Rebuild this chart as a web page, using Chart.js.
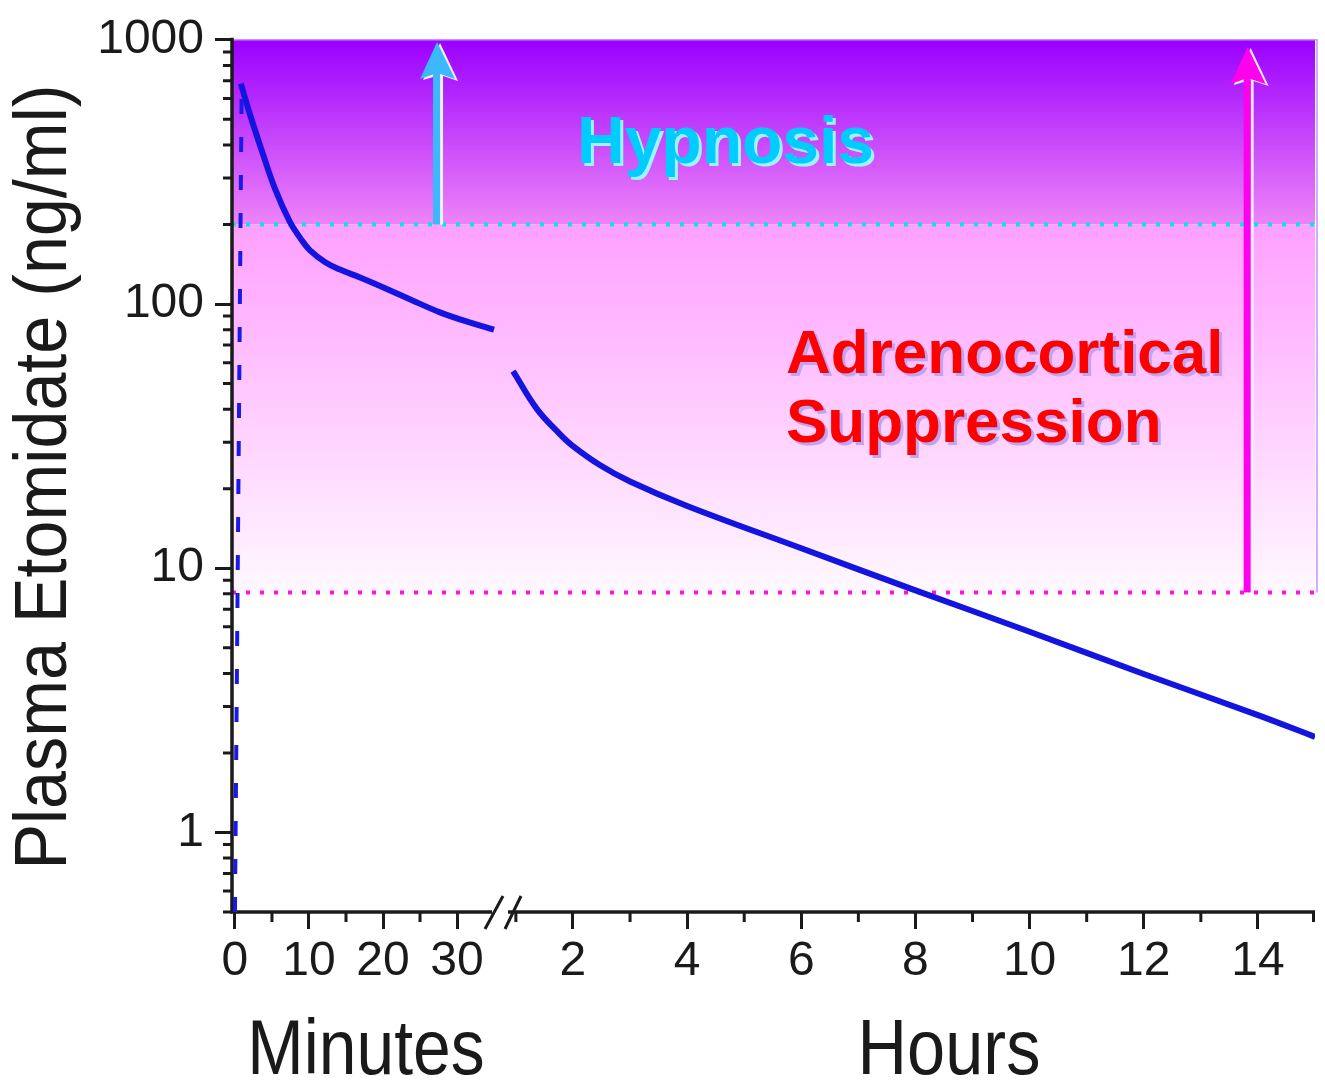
<!DOCTYPE html>
<html><head><meta charset="utf-8">
<script src="https://cdn.jsdelivr.net/npm/chart.js@4.4.1/dist/chart.umd.min.js"></script>
<style>html,body{margin:0;padding:0;background:#fff}#wrap{width:1325px;height:1081px}</style>
</head><body><div id="wrap"><canvas id="c" width="1325" height="1081"></canvas></div>
<script>
// ---- data ----
const injectionMinutes = [0, 0.9];
const injectionConc = [0.5, 650];
const earlyMinutes = [0.8, 2, 3.8, 5.5, 7.4, 8.8, 10.1, 12.2, 14.2, 16.9, 19.6, 23.7, 27.7, 31.8, 35];
const earlyConc = [682, 525, 368, 269, 205, 178, 160, 144, 135, 126, 117, 104, 93, 85, 80];
const lateHours = [0.95, 1.37, 1.77, 2, 2.47, 3, 4, 6, 8, 10, 12, 14, 15];
const lateConc = [55.7, 40, 32.2, 29, 24.6, 21.3, 17.2, 11.9, 8.25, 5.75, 3.98, 2.78, 2.3];
const yMajorTicks = [1, 10, 100, 1000];
const yMinorTicks = [0.5, 0.6, 0.7, 0.8, 0.9, 2, 3, 4, 5, 6, 7, 8, 9, 20, 30, 40, 50, 60, 70, 80, 90, 200, 300, 400, 500, 600, 700, 800, 900];
const minuteMajorTicks = [0, 10, 20, 30];
const minuteMinorTicks = [5, 15, 25];
const hourMajorTicks = [2, 4, 6, 8, 10, 12, 14];
const hourMinorTicks = [1, 3, 5, 7, 9, 11, 13, 15];
const hypnosisLevel = 200;
const suppressionLevel = 8.1;
const hypnosisArrowMinute = 27.3;
const suppressionArrowHour = 13.82;
const yTitle = 'Plasma Etomidate (ng/ml)';
const minutesLabel = 'Minutes';
const hoursLabel = 'Hours';
const hypnosisText = 'Hypnosis';
const suppressionText = ['Adrenocortical', 'Suppression'];

const INK = '#1a1a1a';
const FONT = "'Liberation Sans', Arial, sans-serif";

function drawArrow(ctx, x, yBottom, yTip, color) {
  ctx.fillStyle = '#f4f0ff';
  ctx.fillRect(x + 3, yTip + 32, 3, yBottom - yTip - 32);
  ctx.beginPath();
  ctx.moveTo(x + 3, yTip + 1); ctx.lineTo(x + 21, yTip + 39); ctx.lineTo(x + 3, yTip + 33); ctx.lineTo(x - 14, yTip + 38);
  ctx.closePath(); ctx.fill();
  ctx.fillStyle = color;
  ctx.fillRect(x - 4, yTip + 30, 7, yBottom - yTip - 30);
  ctx.beginPath();
  ctx.moveTo(x, yTip); ctx.lineTo(x + 18, yTip + 37); ctx.lineTo(x, yTip + 31); ctx.lineTo(x - 17, yTip + 37);
  ctx.closePath(); ctx.fill();
}

function condensedText(ctx, text, x, y, size, sx, rot) {
  ctx.save();
  ctx.translate(x, y);
  if (rot) ctx.rotate(rot);
  ctx.scale(sx, 1);
  ctx.font = size + 'px ' + FONT;
  ctx.fillStyle = INK;
  ctx.textAlign = 'center';
  ctx.textBaseline = 'alphabetic';
  ctx.fillText(text, 0, 0);
  ctx.restore();
}

function shadowText(ctx, text, x, y, font, color, shadow) {
  ctx.font = font;
  ctx.textAlign = 'left';
  ctx.textBaseline = 'alphabetic';
  ctx.fillStyle = shadow;
  ctx.fillText(text, x + 3, y + 3);
  ctx.fillStyle = color;
  ctx.fillText(text, x, y);
}

const decor = {
  id: 'decor',
  beforeDatasetsDraw(chart) {
    const {ctx, chartArea: a, scales} = chart;
    const y = scales.y, xm = scales.xm, xh = scales.xh;
    const yTop = y.getPixelForValue(1000);
    const yH = y.getPixelForValue(hypnosisLevel);
    const yS = y.getPixelForValue(suppressionLevel);
    ctx.save();
    let g = ctx.createLinearGradient(0, yTop, 0, yH);
    g.addColorStop(0, '#9a00ff');
    g.addColorStop(1, '#ee84f8');
    ctx.fillStyle = g;
    ctx.fillRect(a.left, yTop, a.right - a.left, yH - yTop);
    g = ctx.createLinearGradient(0, yH, 0, yS);
    g.addColorStop(0, '#ffa0ff');
    g.addColorStop(1, '#fff8ff');
    ctx.fillStyle = g;
    ctx.fillRect(a.left, yH, a.right - a.left, yS - yH);
    ctx.strokeStyle = '#c890ff';
    ctx.lineWidth = 1.5;
    ctx.beginPath();
    ctx.moveTo(a.left, yTop); ctx.lineTo(a.right + 2, yTop); ctx.lineTo(a.right + 2, yS);
    ctx.stroke();

    ctx.setLineDash([4, 10]);
    ctx.lineWidth = 4;
    ctx.strokeStyle = '#00e6f0';
    ctx.beginPath(); ctx.moveTo(a.left, yH); ctx.lineTo(a.right + 2, yH); ctx.stroke();
    ctx.strokeStyle = '#ff10e8';
    ctx.beginPath(); ctx.moveTo(a.left, yS); ctx.lineTo(a.right + 2, yS); ctx.stroke();
    ctx.setLineDash([]);

    drawArrow(ctx, xm.getPixelForValue(hypnosisArrowMinute), yH, y.getPixelForValue(980), '#3cb8ff');
    drawArrow(ctx, xh.getPixelForValue(suppressionArrowHour), yS, y.getPixelForValue(940), '#ff00ee');

    ctx.strokeStyle = INK;
    ctx.lineWidth = 3.5;
    ctx.beginPath();
    ctx.moveTo(a.left, yTop - 2); ctx.lineTo(a.left, a.bottom + 1.5);
    ctx.moveTo(a.left - 1.5, a.bottom); ctx.lineTo(xm.right - 5, a.bottom);
    ctx.moveTo(xh.left + 11, a.bottom); ctx.lineTo(a.right, a.bottom);
    ctx.stroke();
    ctx.lineWidth = 3;
    const b = xm.right;
    ctx.beginPath();
    ctx.moveTo(b - 12, a.bottom + 17); ctx.lineTo(b + 6, a.bottom - 16);
    ctx.moveTo(b + 8, a.bottom + 17); ctx.lineTo(b + 24, a.bottom - 16);
    ctx.stroke();

    ctx.lineWidth = 3;
    ctx.beginPath();
    yMinorTicks.forEach(v => { const p = y.getPixelForValue(v); ctx.moveTo(a.left - 9, p); ctx.lineTo(a.left, p); });
    minuteMinorTicks.forEach(v => { const p = xm.getPixelForValue(v); ctx.moveTo(p, a.bottom); ctx.lineTo(p, a.bottom + 10); });
    hourMinorTicks.forEach(v => { const p = Math.min(xh.getPixelForValue(v), a.right - 1.5); ctx.moveTo(p, a.bottom); ctx.lineTo(p, a.bottom + 10); });
    ctx.stroke();
    ctx.restore();
  },
  afterDraw(chart) {
    const {ctx} = chart;
    ctx.save();
    condensedText(ctx, yTitle, 66, 477, 75, 0.91, -Math.PI / 2);
    condensedText(ctx, minutesLabel, 366, 1074, 77, 0.88, 0);
    condensedText(ctx, hoursLabel, 949, 1074, 77, 0.89, 0);
    shadowText(ctx, hypnosisText, 577, 163, 'bold 66px ' + FONT, '#00ccff', '#9cf4ff');
    shadowText(ctx, suppressionText[0], 786, 373, 'bold 62px ' + FONT, '#ff0000', '#c0a4f4');
    shadowText(ctx, suppressionText[1], 786, 442, 'bold 62px ' + FONT, '#ff0000', '#c0a4f4');
    ctx.restore();
  }
};

const pts = (xs, ys) => xs.map((x, i) => ({x: x, y: ys[i]}));
const tickFont = {family: FONT, size: 48};
const gridOpts = {drawOnChartArea: false, drawTicks: true, tickLength: 17, lineWidth: 3, color: INK};

new Chart(document.getElementById('c'), {
  type: 'line',
  data: {
    datasets: [
      {data: pts(injectionMinutes, injectionConc), xAxisID: 'xm', yAxisID: 'y', borderColor: '#1a1ae8', borderWidth: 4, borderDash: [15, 23], pointRadius: 0, fill: false},
      {data: pts(earlyMinutes, earlyConc), xAxisID: 'xm', yAxisID: 'y', borderColor: '#1414e0', borderWidth: 6, tension: 0.4, pointRadius: 0, fill: false},
      {data: pts(lateHours, lateConc), xAxisID: 'xh', yAxisID: 'y', borderColor: '#1414e0', borderWidth: 6, tension: 0.4, pointRadius: 0, fill: false}
    ]
  },
  options: {
    responsive: false,
    animation: false,
    devicePixelRatio: 1,
    events: [],
    layout: {padding: {top: 38, right: 10, left: 0, bottom: 0}},
    plugins: {legend: {display: false}, tooltip: {enabled: false}},
    scales: {
      xm: {
        type: 'linear', position: 'bottom', stack: 'x', stackWeight: 265,
        min: -0.4, max: 35.4,
        afterBuildTicks: s => { s.ticks = minuteMajorTicks.map(v => ({value: v})); },
        afterFit: s => { s.height = 169; },
        grid: gridOpts, border: {display: false},
        ticks: {font: tickFont, color: INK, padding: 4, maxRotation: 0, autoSkip: false, callback: v => String(v)}
      },
      xh: {
        type: 'linear', position: 'bottom', stack: 'x', stackWeight: 818,
        min: 0.669, max: 15.0,
        afterBuildTicks: s => { s.ticks = hourMajorTicks.map(v => ({value: v})); },
        afterFit: s => { s.height = 169; },
        grid: gridOpts, border: {display: false},
        ticks: {font: tickFont, color: INK, padding: 4, maxRotation: 0, autoSkip: false, callback: v => String(v)}
      },
      y: {
        type: 'logarithmic', position: 'left', min: 0.5, max: 1000,
        afterBuildTicks: s => { s.ticks = yMajorTicks.map(v => ({value: v})); },
        afterFit: s => { s.width = 232; },
        grid: gridOpts, border: {display: false},
        ticks: {font: tickFont, color: INK, padding: 11, autoSkip: false, callback: v => String(v)}
      }
    }
  },
  plugins: [decor]
});
</script>
</body></html>
